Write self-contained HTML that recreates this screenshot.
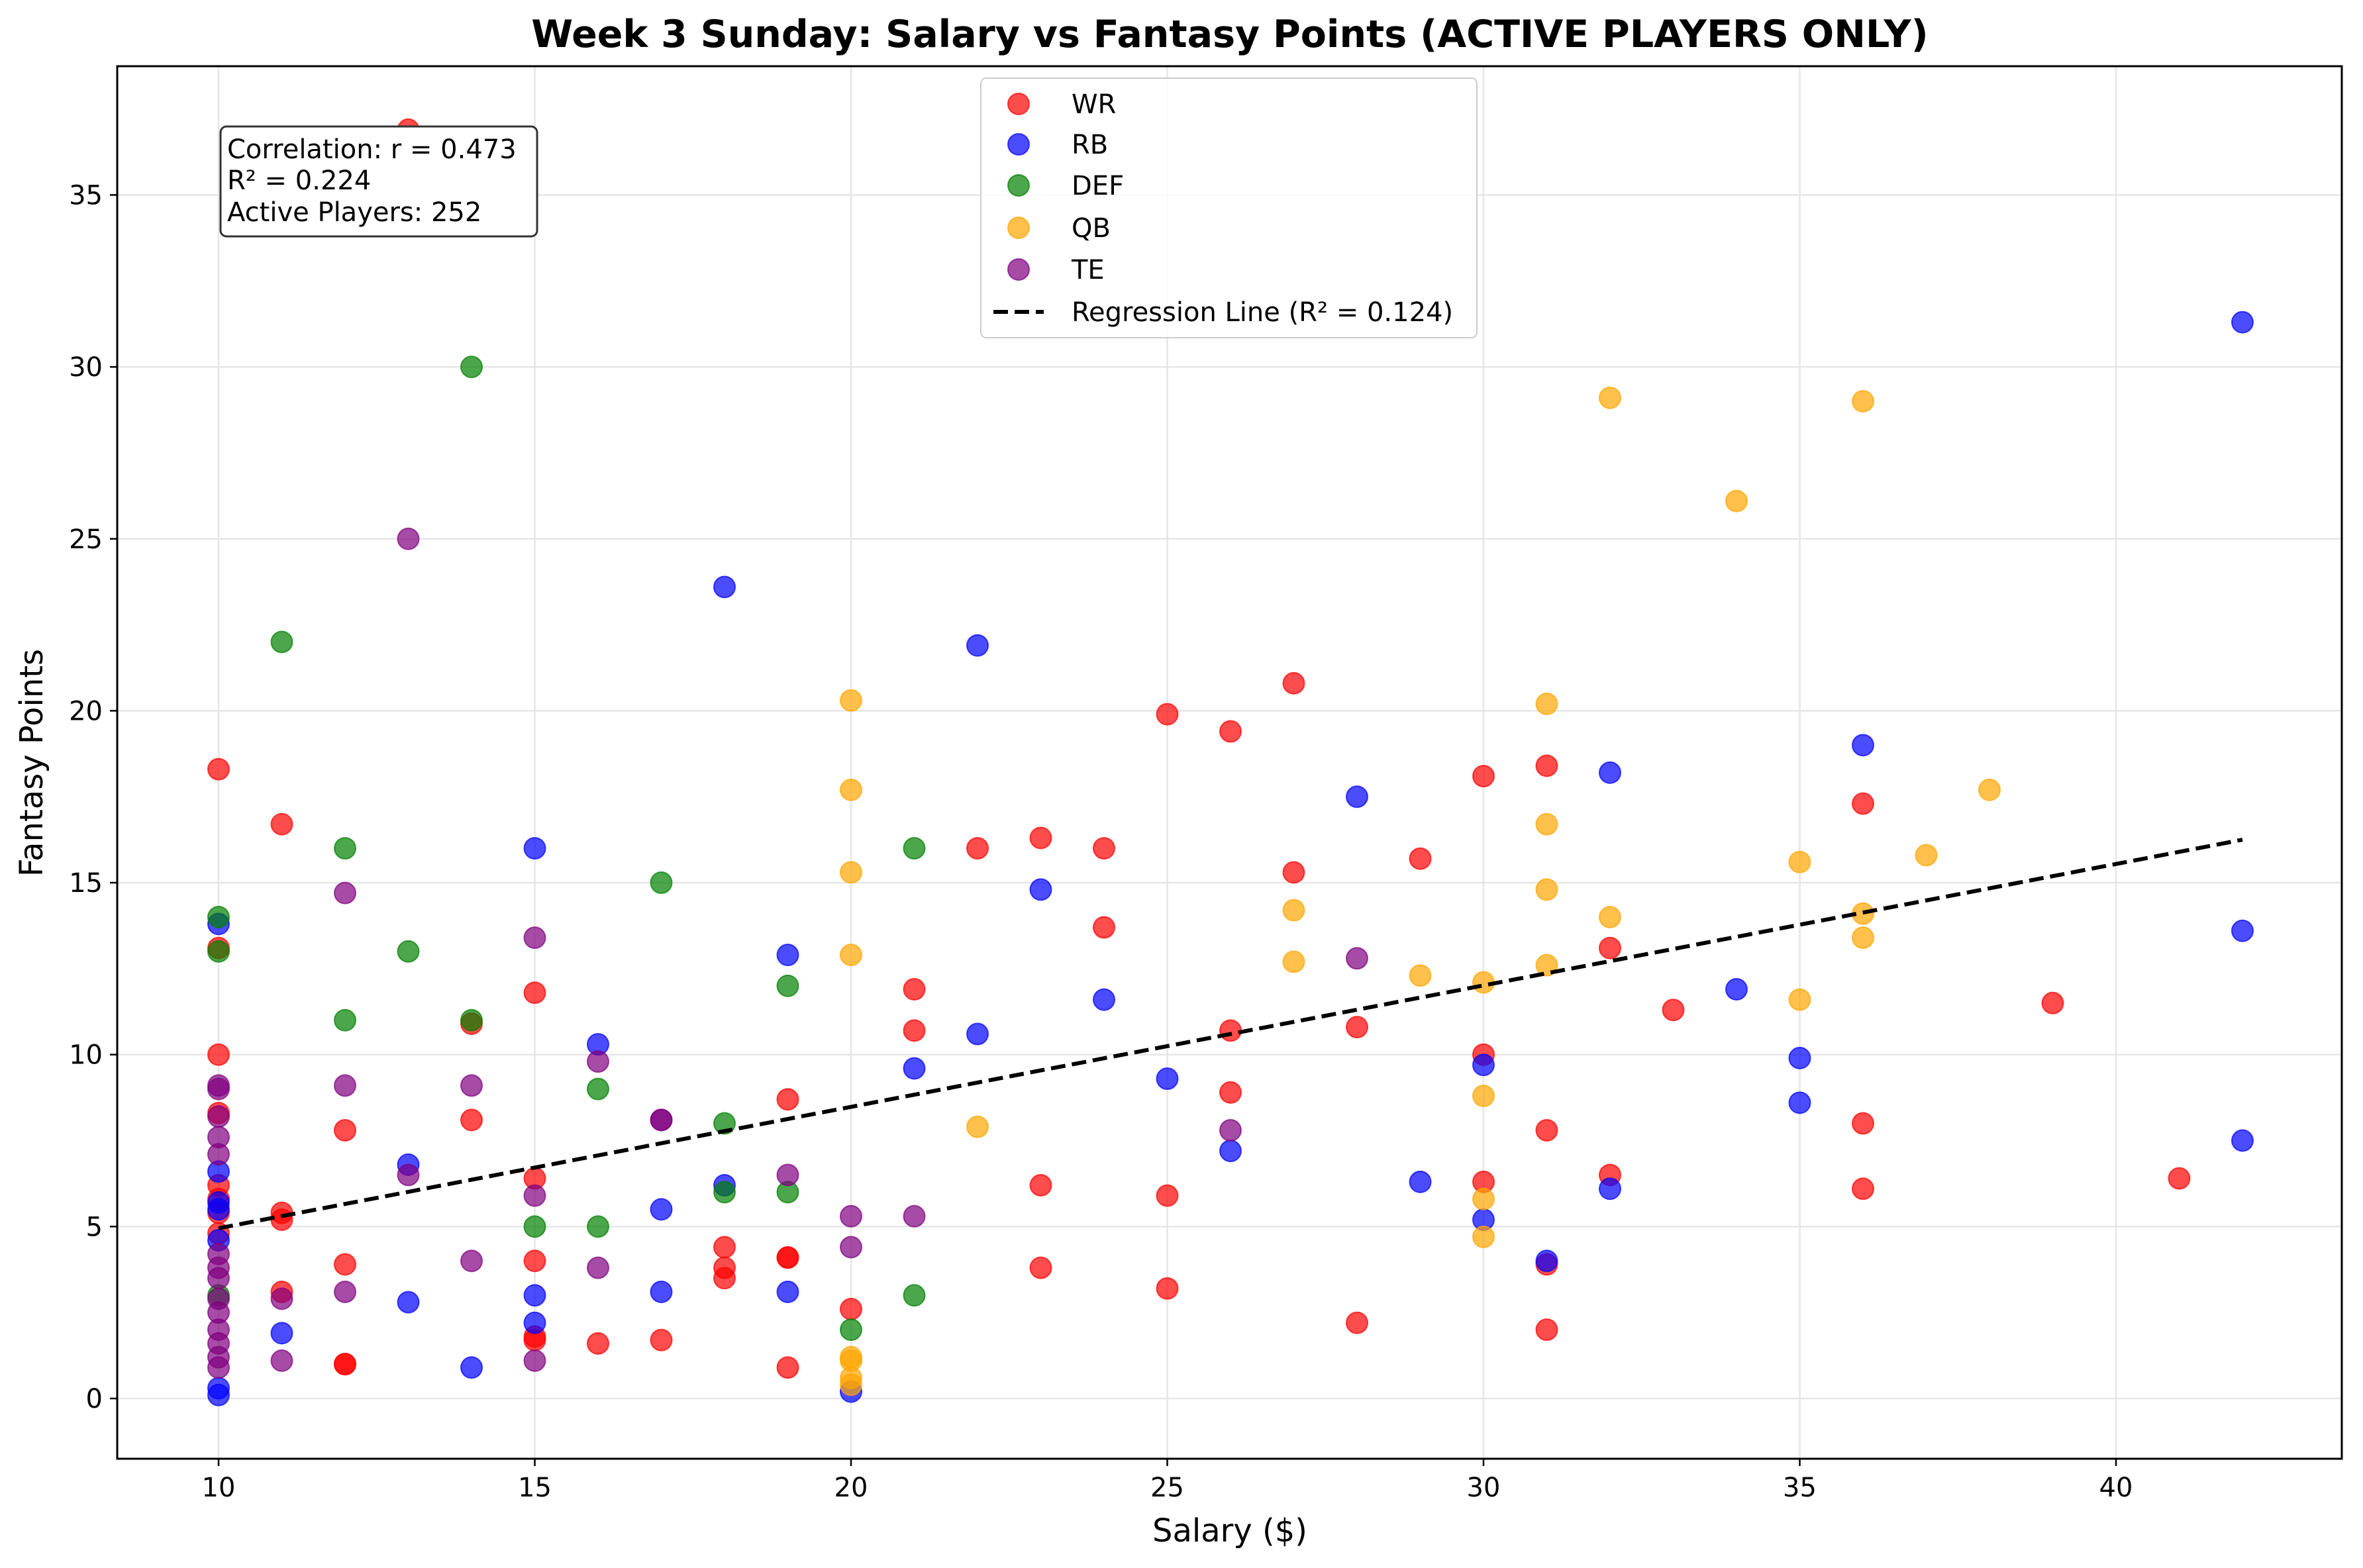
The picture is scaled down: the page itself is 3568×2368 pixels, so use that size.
<!DOCTYPE html>
<html><head><meta charset="utf-8"><style>
html,body{margin:0;padding:0;background:#fff}
svg{display:block;font-family:"DejaVu Sans","Liberation Sans",sans-serif}
</style></head><body>
<svg id="chart" width="3568" height="2368" viewBox="0 0 3568 2368" xmlns="http://www.w3.org/2000/svg">
<rect width="3568" height="2368" fill="#fff"/>
<g id="grid"></g>
<g id="marks"></g>
<rect x="177" y="100" width="3359" height="2103" fill="none" stroke="#000" stroke-width="3"/>
<g id="axes"></g>
<text x="1857" y="71" text-anchor="middle" font-size="57" font-weight="bold">Week 3 Sunday: Salary vs Fantasy Points (ACTIVE PLAYERS ONLY)</text>
<text x="1857" y="2328" text-anchor="middle" font-size="48">Salary ($)</text>
<text transform="translate(64,1152) rotate(-90)" text-anchor="middle" font-size="48">Fantasy Points</text>
<g>
<rect x="333" y="191" width="478" height="166" rx="9" fill="#fff" stroke="#333" stroke-width="3"/>
<text x="343" y="239" font-size="40">Correlation: r = 0.473</text>
<text x="343" y="286" font-size="40">R² = 0.224</text>
<text x="343" y="334" font-size="40">Active Players: 252</text>
</g>
<g id="legend">
<rect x="1481" y="118" width="749" height="392" rx="8" fill="#fff" fill-opacity="0.8" stroke="#ccc" stroke-width="2"/>
</g>
</svg>
<script>
const wrX=[13,10,11,10,10,10,10,10,10,10,11,11,11,12,12,12,12,14,14,15,15,15,15,15,16,17,18,18,18,19,19,19,19,20,21,21,22,23,23,23,24,24,25,25,25,26,26,26,27,27,28,28,29,30,30,30,31,31,31,31,32,32,33,36,36,36,39,41];
const wrY=[36.9,18.3,16.7,10,8.3,6.2,5.8,5.4,4.8,13.1,5.4,5.2,3.1,7.8,3.9,1.0,1.0,10.9,8.1,11.8,6.4,4.0,1.8,1.7,1.6,1.7,4.4,3.8,3.5,8.7,4.1,4.1,0.9,2.6,11.9,10.7,16.0,16.3,6.2,3.8,16.0,13.7,19.9,5.9,3.2,19.4,10.7,8.9,20.8,15.3,10.8,2.2,15.7,18.1,10.0,6.3,18.4,7.8,3.9,2.0,13.1,6.5,11.3,17.3,8.0,6.1,11.5,6.4];
const rbX=[10,10,10,10,10,10,10,11,13,13,14,15,15,15,16,17,17,18,18,19,19,20,21,22,22,23,24,25,26,28,29,30,30,31,32,32,34,35,35,36,42,42,42];
const rbY=[13.8,6.6,5.7,5.5,4.6,0.3,0.1,1.9,6.8,2.8,0.9,16.0,3.0,2.2,10.3,5.5,3.1,23.6,6.2,12.9,3.1,0.2,9.6,21.9,10.6,14.8,11.6,9.3,7.2,17.5,6.3,9.7,5.2,4.0,18.2,6.1,11.9,9.9,8.6,19.0,31.3,13.6,7.5];
const defX=[10,10,10,11,12,12,13,14,14,15,16,16,17,18,18,19,19,20,21,21];
const defY=[14.0,13.0,3.0,22.0,16.0,11.0,13.0,30.0,11.0,5.0,9.0,5.0,15.0,8.0,6.0,12.0,6.0,2.0,16.0,3.0];
const qbX=[20,20,20,20,20,20,20,20,22,27,27,29,30,30,30,30,31,31,31,31,32,32,34,35,35,36,36,36,37,38];
const qbY=[20.3,17.7,15.3,12.9,1.2,1.1,0.6,0.4,7.9,14.2,12.7,12.3,12.1,8.8,5.8,4.7,20.2,16.7,14.8,12.6,29.1,14.0,26.1,15.6,11.6,29.0,14.1,13.4,15.8,17.7];
const teX=[10,10,10,10,10,10,10,10,10,10,10,10,10,10,11,11,12,12,12,13,13,14,14,15,15,15,16,16,17,17,19,20,20,21,26,28];
const teY=[9.1,9.0,8.2,7.6,7.1,4.2,3.8,3.5,2.9,2.5,2.0,1.6,1.2,0.9,2.9,1.1,14.7,9.1,3.1,25.0,6.5,9.1,4.0,13.4,5.9,1.1,9.8,3.8,8.1,8.1,6.5,5.3,4.4,5.3,7.8,12.8];
const regX=[10,42];
const regY=[4.95,16.25];
const xTicks=[10,15,20,25,30,35,40];
const yTicks=[0,5,10,15,20,25,30,35];
const seriesNames=["WR","RB","DEF","QB","TE"];

const NS="http://www.w3.org/2000/svg";
function X(v){return 330+(v-10)*95.5;}
function Y(v){return 2112-v*51.93;}
function mk(tag,attrs,parent){const e=document.createElementNS(NS,tag);for(const k in attrs)e.setAttribute(k,attrs[k]);parent.appendChild(e);return e;}
const grid=document.getElementById('grid'),marks=document.getElementById('marks'),axes=document.getElementById('axes'),legend=document.getElementById('legend');
xTicks.forEach(t=>{
  const g=mk('line',{x1:X(t),x2:X(t),y1:100,y2:2203,stroke:'#e6e6e6','stroke-width':2.5},grid);
  
  
  const tk=mk('line',{x1:X(t),x2:X(t),y1:2203,y2:2214,stroke:'#000','stroke-width':2.5},axes);
  
  
  const tx=mk('text',{x:X(t),y:2260,'text-anchor':'middle','font-size':40},axes);
  tx.textContent=t;
  
  
});
yTicks.forEach(t=>{
  const g=mk('line',{x1:177,x2:3536,y1:Y(t),y2:Y(t),stroke:'#e6e6e6','stroke-width':2.5},grid);
  
  
  const tk=mk('line',{x1:166,x2:177,y1:Y(t),y2:Y(t),stroke:'#000','stroke-width':2.5},axes);
  
  
  const tx=mk('text',{x:155,y:Y(t)+14,'text-anchor':'end','font-size':40},axes);
  tx.textContent=t;
  
  
});
const series=[[wrX,wrY,'red'],[rbX,rbY,'blue'],[defX,defY,'green'],[qbX,qbY,'orange'],[teX,teY,'purple']];
series.forEach((s,i)=>{
  const g=mk('g',{},marks);
  
  
  s[0].forEach((x,j)=>{
    const c=mk('circle',{cx:X(x),cy:Y(s[1][j]),r:16,fill:s[2],'fill-opacity':0.7,stroke:s[2],'stroke-opacity':0.7,'stroke-width':2},g);
    
    
  });
});
const rl=mk('line',{x1:X(regX[0]),y1:Y(regY[0]),x2:X(regX[1]),y2:Y(regY[1]),stroke:'#000','stroke-width':6,'stroke-dasharray':'22 10'},marks);


const rows=[157,218,280,344,407];
seriesNames.forEach((n,i)=>{
  const c=mk('circle',{cx:1538,cy:rows[i],r:16,fill:series[i][2],'fill-opacity':0.7,stroke:series[i][2],'stroke-opacity':0.7,'stroke-width':2},legend);
  
  
  const t=mk('text',{x:1618,y:rows[i]+14,'font-size':40},legend);
  t.textContent=n;
  
  
});
const ll=mk('line',{x1:1500,x2:1576,y1:471,y2:471,stroke:'#000','stroke-width':6,'stroke-dasharray':'22 10'},legend);


const lt=mk('text',{x:1618,y:485,'font-size':40},legend);
lt.textContent='Regression Line (R² = 0.124)';


</script>
</body></html>
